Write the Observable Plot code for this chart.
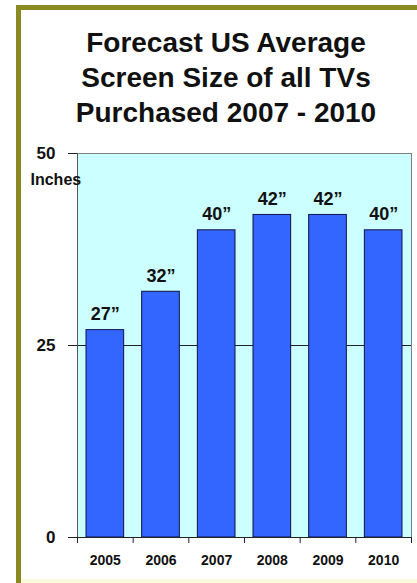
<!DOCTYPE html>
<html>
<head>
<meta charset="utf-8">
<script src="https://cdn.jsdelivr.net/npm/d3@7"></script>
<script src="https://cdn.jsdelivr.net/npm/@observablehq/plot@0.6"></script>
<style>
  html, body { margin: 0; padding: 0; background: #fff; overflow: hidden; }
  body { width: 417px; height: 583px; position: relative; font-family: "Liberation Sans", Arial, sans-serif; }
  #border { position: absolute; left: 16px; top: 5px; right: -10px; bottom: -10px;
            border-left: 5px solid #8a8a22; border-top: 5px solid #8a8a22; }
  #bottomline { position: absolute; left: 21px; right: 0; top: 579px; height: 4px; background: #fbfbdc; }
  #title { position: absolute; left: 36px; width: 380px; top: 25px; text-align: center;
           font-size: 28px; font-weight: bold; line-height: 35px; color: #111; }
  #chart { position: absolute; left: 21px; top: 140px; }
</style>
</head>
<body>
<div id="border"></div>
<div id="bottomline"></div>
<div id="title">Forecast US Average<br>Screen Size of all TVs<br>Purchased 2007 - 2010</div>
<div id="chart"></div>
<script>
const years = ["2005", "2006", "2007", "2008", "2009", "2010"];
const values = [27, 32, 40, 42, 42, 40];
const valueLabels = ["27\u201D", "32\u201D", "40\u201D", "42\u201D", "42\u201D", "40\u201D"];
const yTicks = [0, 25, 50];
const yUnit = "Inches";

const data = years.map((year, i) => ({year, i, value: values[i], label: valueLabels[i]}));
const boundaries = d3.range(years.length + 1);
const centers = years.map((_, i) => i + 0.5);

const chart = Plot.plot({
  width: 396,
  height: 443,
  marginLeft: 56,
  marginRight: 6,
  marginTop: 13,
  marginBottom: 46,
  style: {fontFamily: "'Liberation Sans', Arial, sans-serif", background: "transparent", color: "#111"},
  x: {type: "linear", domain: [0, years.length], axis: null},
  y: {domain: [0, 50], axis: null},
  marks: [
    Plot.frame({fill: "#ccffff", stroke: "#808080"}),
    Plot.ruleY([25], {stroke: "#222", strokeWidth: 1}),
    Plot.rectY(data, {x1: "i", x2: d => d.i + 1, y1: 0, y2: "value", insetLeft: 9, insetRight: 9,
      fill: "#3366ff", stroke: "#10104a", strokeWidth: 1}),
    Plot.text(data, {x: d => d.i + 0.5, y: "value", text: "label", dy: -10, lineAnchor: "bottom",
      fontSize: 18, fontWeight: "bold", fill: "#111"}),
    Plot.ruleY([0], {stroke: "#222"}),
    Plot.ruleX([0], {stroke: "#555"}),
    Plot.axisY({ticks: yTicks, tickSize: 9, tickPadding: 13, fontSize: 17, fontWeight: "bold",
      label: null, stroke: "#222"}),
    Plot.axisX({ticks: boundaries, tickFormat: () => "", tickSize: 6, label: null, stroke: "#222"}),
    Plot.axisX({ticks: centers, tickFormat: (d) => years[Math.floor(d)], tickSize: 0, tickPadding: 18,
      fontSize: 14, fontWeight: "bold", label: null}),
    Plot.text([yUnit], {frameAnchor: "top-left", dx: -47, dy: 26, textAnchor: "start",
      lineAnchor: "middle", fontSize: 16, fontWeight: "bold", fill: "#111"})
  ]
});
document.getElementById("chart").appendChild(chart);
</script>
</body>
</html>
